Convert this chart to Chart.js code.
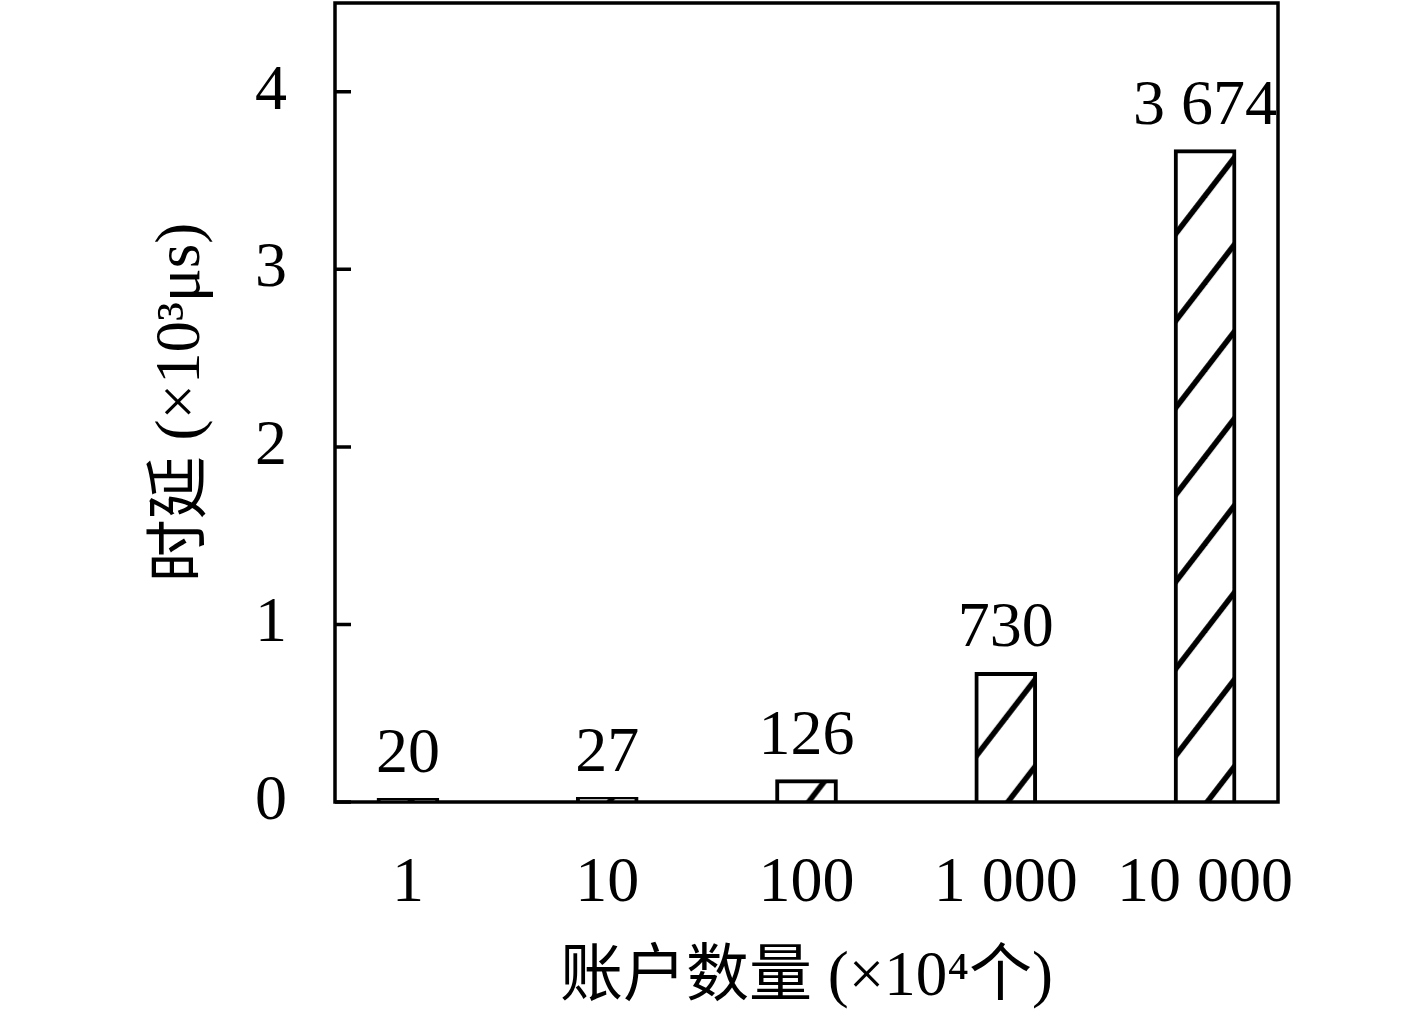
<!DOCTYPE html>
<html>
<head>
<meta charset="utf-8">
<script src="https://cdn.jsdelivr.net/npm/chart.js@4.4.1/dist/chart.umd.min.js"></script>
<style>
  html, body { margin: 0; padding: 0; background: #fff; }
  #wrap { width: 1417px; height: 1025px; }
</style>
</head>
<body>
<div id="wrap"><canvas id="c" width="1417" height="1025"></canvas></div>
<script>
// ---- data ----
const categories = ['1', '10', '100', '1 000', '10 000'];
const latency = [0.020, 0.027, 0.126, 0.730, 3.674];          // ×10^3 μs
const valueLabels = ['20', '27', '126', '730', '3 674'];
const yTicks = [0, 1, 2, 3, 4];
const xTitle = '账户数量 (×10⁴个)';
const yTitle = '时延 (×10³μs)';

const SERIF = '"Liberation Serif", "Noto Sans CJK SC", serif';

function hatch(context) {
  const chart = context.chart;
  const xs = chart.scales.x, ys = chart.scales.y;
  if (!xs || !ys || context.dataIndex === undefined) return '#fff';
  const W = 67, H = 87;
  const t = document.createElement('canvas');
  t.width = W; t.height = H;
  const g = t.getContext('2d');
  g.fillStyle = '#fff';
  g.fillRect(0, 0, W, H);
  g.strokeStyle = '#000';
  g.lineWidth = 5.5;
  g.lineCap = 'butt';
  for (let k = -1; k <= 2; k++) {
    g.beginPath();
    g.moveTo(0 - W, H * (k + 1));
    g.lineTo(W * (k + 1), 0 - H);
    g.stroke();
  }
  const pat = chart.ctx.createPattern(t, 'repeat');
  const cx = xs.getPixelForValue(context.dataIndex);
  const left = cx - 31;
  const zero = ys.getPixelForValue(0);
  pat.setTransform(new DOMMatrix().translate(left + 33, zero - H));
  return pat;
}

function noPad(s) {
  s.paddingTop = 0; s.paddingBottom = 0; s.paddingLeft = 0; s.paddingRight = 0;
}

const framePlugin = {
  id: 'frame',
  afterDatasetsDraw(chart) {
    const { ctx, chartArea: a, scales: { y } } = chart;
    ctx.save();
    ctx.strokeStyle = '#000';
    ctx.lineWidth = 3.5;
    ctx.strokeRect(a.left, a.top, a.right - a.left, a.bottom - a.top);
    ctx.beginPath();
    yTicks.forEach(v => {
      const py = y.getPixelForValue(v);
      ctx.moveTo(a.left, py);
      ctx.lineTo(a.left + 16, py);
    });
    ctx.stroke();
    ctx.restore();
  },
  afterDraw(chart) {
    const { ctx } = chart;
    const meta = chart.getDatasetMeta(0);
    ctx.save();
    ctx.fillStyle = '#000';
    ctx.font = '64px ' + SERIF;
    ctx.textAlign = 'center';
    ctx.textBaseline = 'alphabetic';
    meta.data.forEach((bar, i) => {
      ctx.fillText(valueLabels[i], bar.x, bar.y - 26);
    });
    ctx.restore();
  }
};

new Chart(document.getElementById('c'), {
  type: 'bar',
  data: {
    datasets: [{
      data: latency.map((v, i) => ({ x: i, y: v })),
      backgroundColor: hatch,
      borderColor: '#000',
      borderWidth: 4,
      barThickness: 62
    }]
  },
  plugins: [framePlugin],
  options: {
    responsive: false,
    animation: false,
    events: [],
    layout: { padding: { top: 3, right: 139, left: 0, bottom: 0 } },
    plugins: { legend: { display: false }, tooltip: { enabled: false } },
    scales: {
      x: {
        type: 'linear',
        offset: false,
        bounds: 'data',
        min: -0.366,
        max: 4.366,
        afterBuildTicks: s => { s.ticks = categories.map((_, i) => ({ value: i })); },
        afterFit: s => { s.height = 223; noPad(s); },
        grid: { display: false, drawTicks: false, offset: false },
        border: { display: false },
        ticks: {
          callback: (v) => categories[v],
          color: '#000',
          font: { family: SERIF, size: 64 },
          padding: 44,
          maxRotation: 0,
          autoSkip: false
        },
        title: {
          display: true,
          text: xTitle,
          color: '#000',
          font: { family: SERIF, size: 63 },
          padding: { top: 0, bottom: 9 }
        }
      },
      y: {
        min: 0,
        max: 4.5,
        afterBuildTicks: s => { s.ticks = yTicks.map(v => ({ value: v })); },
        afterFit: s => { s.width = 335; noPad(s); },
        grid: { display: false, drawTicks: false },
        border: { display: false },
        ticks: {
          color: '#000',
          font: { family: SERIF, size: 64 },
          padding: 48
        },
        title: {
          display: true,
          text: yTitle,
          color: '#000',
          font: { family: SERIF, size: 63 },
          padding: { top: 145, bottom: 0 }
        }
      }
    }
  }
});
</script>
</body>
</html>
